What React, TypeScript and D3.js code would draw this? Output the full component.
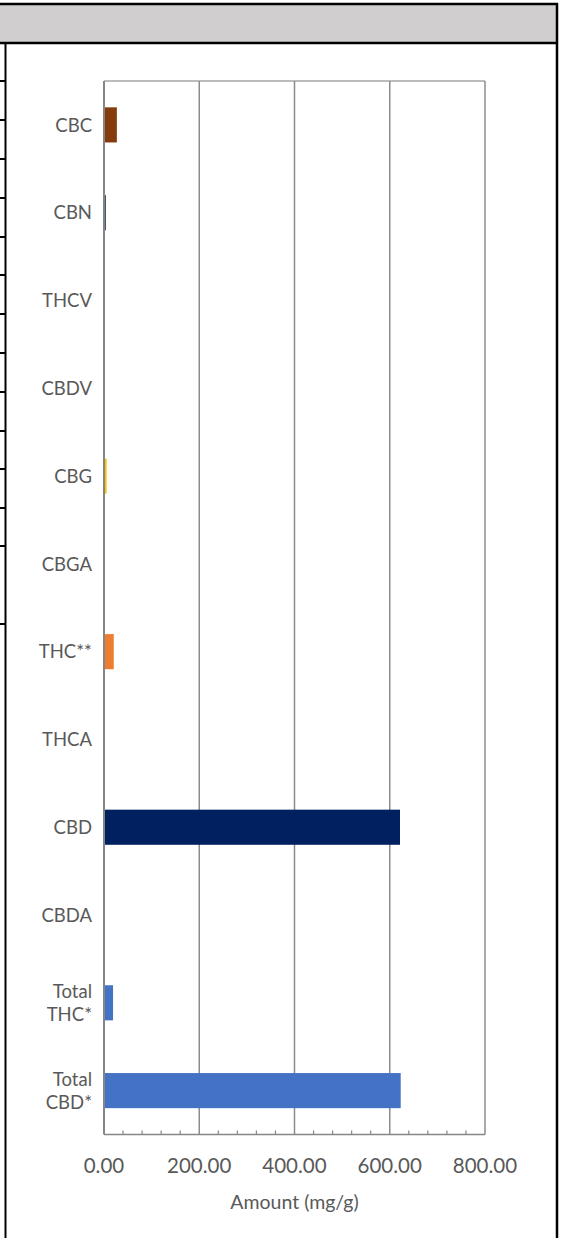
import React from "react";
import { scaleLinear, scaleBand, range } from "d3";

// categories top to bottom, as drawn
const categories = [
  "CBC",
  "CBN",
  "THCV",
  "CBDV",
  "CBG",
  "CBGA",
  "THC**",
  "THCA",
  "CBD",
  "CBDA",
  "Total THC*",
  "Total CBD*",
];
const amounts = [27, 3, 0, 0, 5.5, 0, 20.5, 0, 621.5, 0, 19, 623];
const barColors = [
  "#843C0C",
  "#44546A",
  "#A5A5A5",
  "#5B9BD5",
  "#FFC000",
  "#70AD47",
  "#ED7D31",
  "#264478",
  "#002060",
  "#9E480E",
  "#4472C4",
  "#4472C4",
];
const xTicks = [0, 200, 400, 600, 800];
const axisTitle = "Amount (mg/g)";
// cut-off table rows on the left edge
const tableRows = [81, 120, 159, 198, 237, 275, 314, 353, 392, 431, 469, 508, 546, 624];

const W = 561;
const H = 1238;
const plot = { left: 104, right: 485, top: 81, bottom: 1134.5 };
const font = "Lato, 'Open Sans', sans-serif";
const textColor = "#595959";

export default function App() {
  const x = scaleLinear().domain([0, 800]).range([plot.left, plot.right]);
  const y = scaleBand<string>()
    .domain(categories)
    .range([plot.top, plot.bottom])
    .paddingInner(0)
    .paddingOuter(0);
  const bw = y.bandwidth();
  const minorTicks = range(0, 801, 40).filter((v) => v % 200 !== 0);

  return (
    <div style={{ position: "absolute", left: 0, top: 0 }}>
      <svg width={W} height={H} style={{ display: "block", background: "#fff" }}>
        {/* header band */}
        <rect x={0} y={4} width={557} height={39} fill="#D0CECE" />
        <line x1={0} x2={558} y1={4} y2={4} stroke="#000" strokeWidth={2.5} />
        <line x1={0} x2={558} y1={43} y2={43} stroke="#000" strokeWidth={2.5} />
        <line x1={557} x2={557} y1={3} y2={H} stroke="#000" strokeWidth={2.5} />
        <line x1={5.5} x2={5.5} y1={43} y2={H} stroke="#000" strokeWidth={2} />
        {tableRows.map((r) => (
          <line key={r} x1={0} x2={6} y1={r} y2={r} stroke="#000" strokeWidth={2} />
        ))}

        {/* plot frame top */}
        <line x1={plot.left} x2={plot.right} y1={plot.top} y2={plot.top} stroke="#A6A6A6" strokeWidth={1.5} />
        {/* vertical gridlines */}
        {xTicks.map((t) => (
          <line
            key={t}
            x1={x(t)}
            x2={x(t)}
            y1={plot.top}
            y2={plot.bottom}
            stroke={t === 0 ? "#868686" : "#8C8C8C"}
            strokeWidth={t === 0 ? 2 : 1.5}
          />
        ))}

        {/* bars */}
        {categories.map((c, i) =>
          amounts[i] > 0 ? (
            <rect
              key={c}
              x={x(0) + 1}
              y={(y(c) as number) + bw * 0.3}
              width={Math.max(x(amounts[i]) - x(0) - 1, 1)}
              height={bw * 0.4}
              fill={barColors[i]}
            />
          ) : null
        )}

        {/* bottom axis */}
        <line x1={plot.left} x2={plot.right} y1={plot.bottom} y2={plot.bottom} stroke="#868686" strokeWidth={1.5} />
        {minorTicks.map((t) => (
          <line key={t} x1={x(t)} x2={x(t)} y1={plot.bottom - 4} y2={plot.bottom} stroke="#868686" strokeWidth={1.2} />
        ))}
        {xTicks.map((t) => (
          <text
            key={t}
            x={x(t)}
            y={1166}
            dy="0.36em"
            textAnchor="middle"
            fontFamily={font}
            fontSize={20.5}
            fill={textColor}
          >
            {t.toFixed(2)}
          </text>
        ))}
        <text
          x={(plot.left + plot.right) / 2}
          y={1202}
          dy="0.36em"
          textAnchor="middle"
          fontFamily={font}
          fontSize={19.5}
          fill={textColor}
        >
          {axisTitle}
        </text>

        {/* category labels */}
        {categories.map((c) => {
          const cy = (y(c) as number) + bw / 2;
          const parts = c.split(" ");
          const lh = 23.5;
          return (
            <text
              key={c}
              x={92}
              y={cy - ((parts.length - 1) * lh) / 2}
              textAnchor="end"
              fontFamily={font}
              fontSize={18.5}
              fill={textColor}
            >
              {parts.map((p, j) => (
                <tspan key={j} x={92} dy={j === 0 ? "0.36em" : lh}>
                  {p}
                </tspan>
              ))}
            </text>
          );
        })}
      </svg>
    </div>
  );
}
